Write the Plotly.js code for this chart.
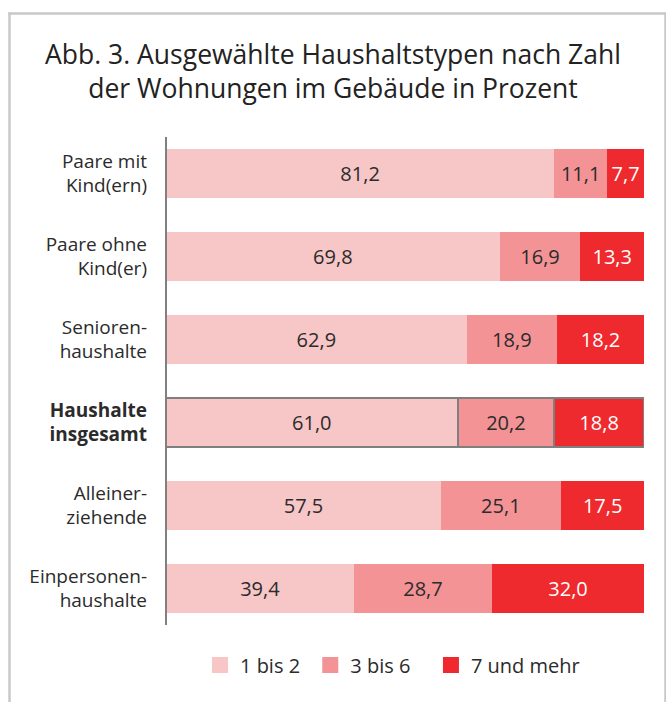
<!DOCTYPE html>
<html>
<head>
<meta charset="utf-8">
<script src="https://cdn.plot.ly/plotly-3.0.1.min.js"></script>
<style>html,body{margin:0;padding:0;background:#fff;}#chart{width:666px;height:702px;}</style>
</head>
<body>
<div id="chart"></div>
<script>
var categories = ["Paare mit<br>Kind(ern)", "Paare ohne<br>Kind(er)", "Senioren-<br>haushalte", "<b>Haushalte</b><br><b>insgesamt</b>", "Alleiner-<br>ziehende", "Einpersonen-<br>haushalte"];
var seriesNames = ["1 bis 2", "3 bis 6", "7 und mehr"];
var wohn1bis2 = [81.2, 69.8, 62.9, 61.0, 57.5, 39.4];
var wohn3bis6 = [11.1, 16.9, 18.9, 20.2, 25.1, 28.7];
var wohn7mehr = [7.7, 13.3, 18.2, 18.8, 17.5, 32.0];
var highlightIndex = 3;

var colors = ["#F7C6C7", "#F39395", "#EE2A2F"];
var textColors = ["#2b2b2b", "#2b2b2b", "#ffffff"];
var seriesValues = [wohn1bis2, wohn3bis6, wohn7mehr];
var legendPad = ["\u00a0", "\u00a0\u00a0\u00a0", ""];

var lineWidths = categories.map(function(c, i){ return i === highlightIndex ? 2 : 0; });

var traces = seriesValues.map(function(vals, s){
  return {
    type: "bar",
    orientation: "h",
    name: seriesNames[s],
    y: categories,
    x: vals,
    text: vals.map(function(v){ return v.toFixed(1).replace(".", ","); }),
    textposition: "inside",
    insidetextanchor: "middle",
    textangle: 0,
    constraintext: "none",
    textfont: {family: "Open Sans", size: 20, color: textColors[s]},
    marker: {color: colors[s], line: {color: "#7f7f7f", width: lineWidths}},
    showlegend: false,
    hoverinfo: "none"
  };
});
// legend entries
seriesNames.forEach(function(n, s){
  traces.push({
    type: "scatter", mode: "markers", name: n + legendPad[s],
    x: [null], y: [null],
    marker: {symbol: "square", size: 16, color: colors[s]},
    showlegend: true, hoverinfo: "none"
  });
});

var L = 166, R = 644, T = 132, B = 630;
var pw = R - L, ph = B - T;
function px(x){ return (x - L) / pw; }
function py(y){ return (B - y) / ph; }

var frameColor = "#c8c8c8";
var layout = {
  width: 666, height: 702,
  margin: {l: L, r: 666 - R, t: T, b: 702 - B, pad: 0},
  paper_bgcolor: "#ffffff", plot_bgcolor: "#ffffff",
  separators: ",.",
  barmode: "stack",
  bargap: 0.398,
  font: {family: "Open Sans", color: "#2b2b2b"},
  title: {
    text: "Abb. 3. Ausgewählte Haushaltstypen nach Zahl<br>der Wohnungen im Gebäude in Prozent",
    font: {family: "Open Sans", size: 26.5, color: "#222222"},
    xref: "container", x: 0.5, xanchor: "center",
    yref: "container", y: 1 - 64/702, yanchor: "top"
  },
  xaxis: {range: [0, 100], visible: false, fixedrange: true},
  yaxis: {
    type: "category",
    autorange: "reversed",
    showline: false, showgrid: false, zeroline: false,
    ticks: "", ticklabelstandoff: 18,
    tickfont: {family: "Open Sans", size: 19, color: "#2b2b2b"},
    fixedrange: true
  },
  showlegend: true,
  legend: {
    orientation: "h",
    x: px(200), xanchor: "left",
    y: py(665), yanchor: "middle",
    font: {family: "Open Sans", size: 20, color: "#2b2b2b"},
    itemclick: false, itemdoubleclick: false,
    traceorder: "normal"
  },
  shapes: [
    {type: "line", xref: "paper", yref: "paper", x0: 0, x1: 0, y0: py(625), y1: py(137), line: {color: "#808080", width: 2}},
    {type: "line", xref: "paper", yref: "paper", x0: px(9.5), x1: px(9.5), y0: py(12.5), y1: py(720), line: {color: frameColor, width: 2.5}},
    {type: "line", xref: "paper", yref: "paper", x0: px(665.5), x1: px(665.5), y0: py(12.5), y1: py(720), line: {color: frameColor, width: 2.5}},
    {type: "line", xref: "paper", yref: "paper", x0: px(8.25), x1: px(666), y0: py(13.5), y1: py(13.5), line: {color: frameColor, width: 2.5}}
  ]
};

Plotly.newPlot("chart", traces, layout, {displayModeBar: false, staticPlot: true});
</script>
</body>
</html>
